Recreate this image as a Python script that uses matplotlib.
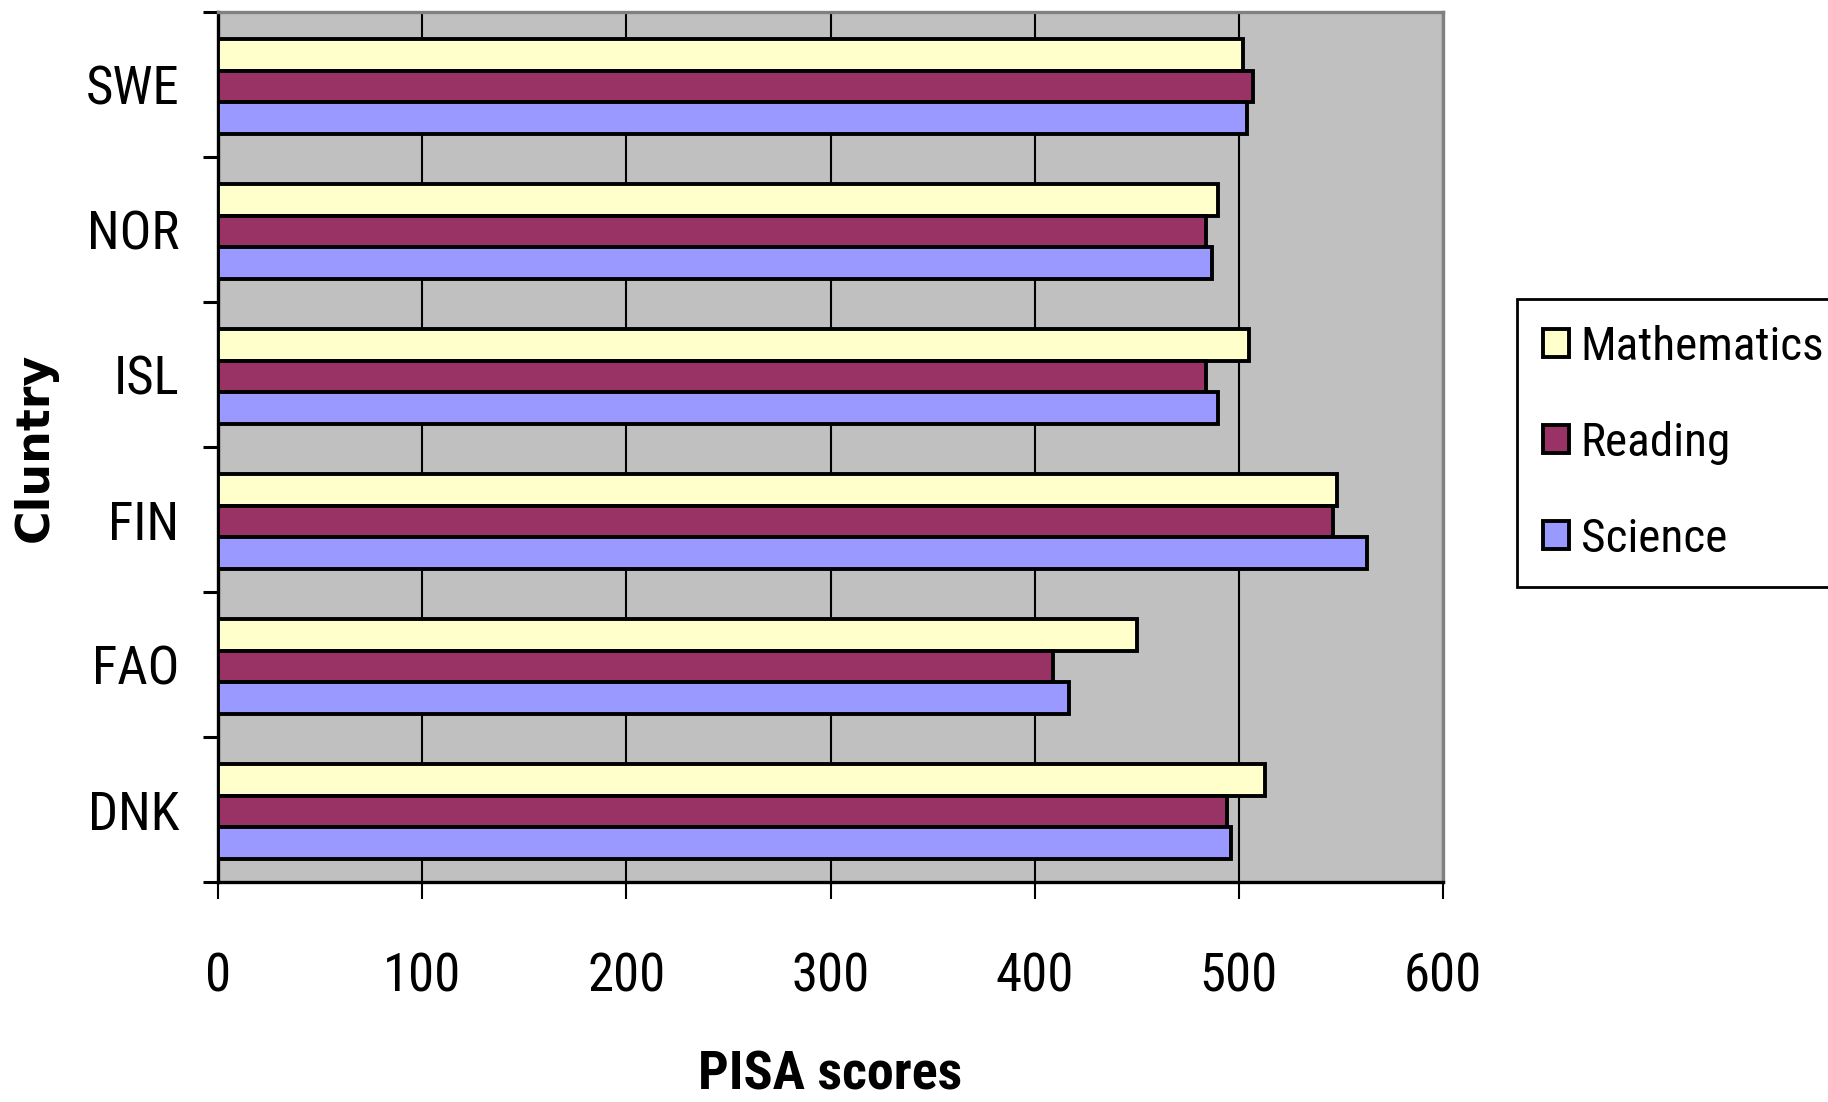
import matplotlib.pyplot as plt
import numpy as np

# data
countries = ["DNK", "FAO", "FIN", "ISL", "NOR", "SWE"]
mathematics = [513, 450, 548, 505, 490, 502]
reading = [494, 409, 546, 484, 484, 507]
science = [496, 417, 563, 490, 487, 504]

series = ["Mathematics", "Reading", "Science"]
colors = ["#FFFFCC", "#993366", "#9999FF"]

narrow = ["Roboto Condensed", "DejaVu Sans"]

fig = plt.figure(figsize=(18.28, 11.02), dpi=100)
ax = fig.add_axes([218 / 1828, 1 - 882 / 1102, 1225 / 1828, 870 / 1102])
ax.set_facecolor("#C0C0C0")

y = np.arange(len(countries))
h = 0.218
shift = -0.014
for vals, off, name, c in zip([mathematics, reading, science], [h, 0, -h], series, colors):
    ax.barh(y + off + shift, vals, height=h, color=c, edgecolor="black",
            linewidth=2.8, label=name, zorder=3)

ax.set_xlim(0, 600)
ax.set_ylim(-0.5, len(countries) - 0.5)
ax.set_xticks(range(0, 601, 100))
ax.xaxis.grid(True, color="black", linewidth=1.5, zorder=1)
ax.set_axisbelow(True)

ax.set_yticks(y)
ax.set_yticklabels(countries)
ax.set_yticks(np.arange(-0.5, len(countries), 1), minor=True)
ax.tick_params(axis="y", which="major", length=0, pad=28, labelsize=38)
ax.tick_params(axis="y", which="minor", length=11, width=2.2, direction="out")
ax.tick_params(axis="x", length=12, width=1.5, direction="out", pad=38, labelsize=38)
for lab in ax.get_xticklabels() + ax.get_yticklabels():
    lab.set_family(narrow)

for s in ["left", "bottom"]:
    ax.spines[s].set_color("black")
    ax.spines[s].set_linewidth(2.4)
for s in ["top", "right"]:
    ax.spines[s].set_color("#808080")
    ax.spines[s].set_linewidth(2.4)

fig.text(830 / 1828, 1 - 1075 / 1102, "PISA scores", ha="center", va="center",
         fontsize=39, fontweight="bold", family=narrow)
fig.text(35 / 1828, 1 - 447 / 1102, "Cluntry", ha="center", va="center",
         rotation=90, fontsize=33, fontweight="bold", family="DejaVu Sans")

leg = ax.legend(loc="upper left", bbox_to_anchor=(1517 / 1828, 1 - 299 / 1102),
                bbox_transform=fig.transFigure, borderaxespad=0,
                prop={"family": narrow, "size": 34},
                handlelength=0.55, handleheight=0.55, handletextpad=0.25,
                labelspacing=1.1, borderpad=0.55, fancybox=False,
                framealpha=1, edgecolor="black")
leg.get_frame().set_linewidth(2)

fig.savefig("out.png", dpi=100)
